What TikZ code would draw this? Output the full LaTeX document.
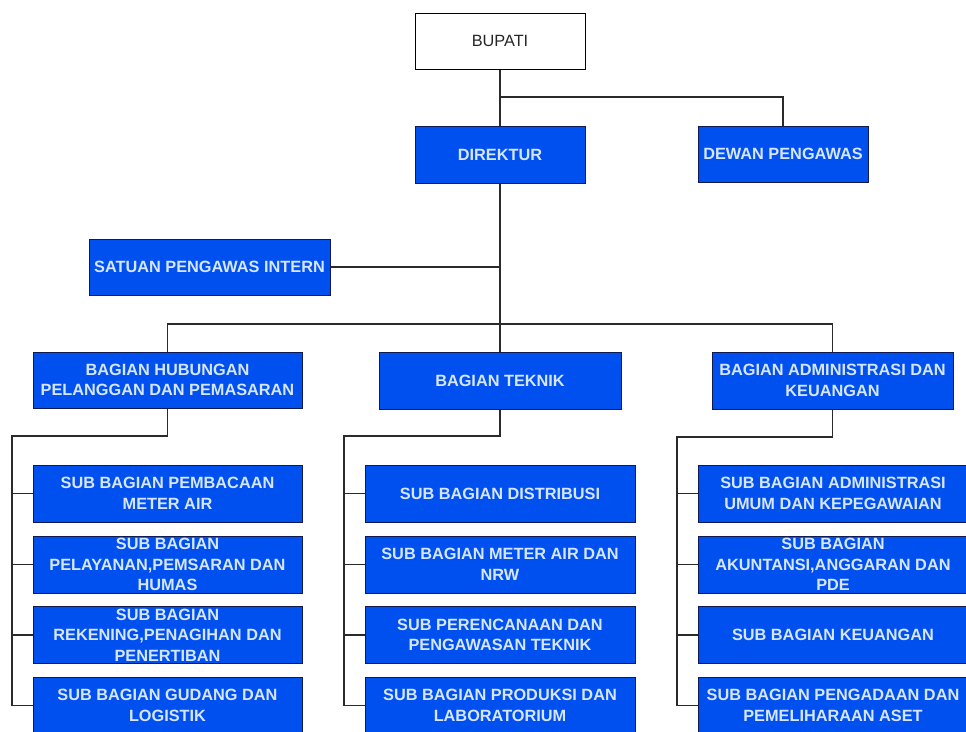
\documentclass[tikz,border=0pt]{standalone}
\usepackage{fontspec}
\setmainfont{Liberation Sans}
\definecolor{boxblue}{HTML}{0050EF}
\definecolor{boxline}{HTML}{101A50}
\definecolor{boxtext}{HTML}{D6E6FF}
\definecolor{wire}{HTML}{2A2A2A}
\begin{document}
\begin{tikzpicture}[x=1pt,y=-1pt,
  base/.style={rectangle,align=center,inner xsep=2pt,inner ysep=0pt,
    font=\fontsize{16.3}{20.5}\selectfont},
  whitebox/.style={base,draw=black,fill=white,line width=1pt,text=black!85},
  bluebox/.style={base,draw=boxline,fill=boxblue,line width=1pt,text=boxtext,
    font=\fontsize{16.3}{20.5}\selectfont\bfseries},
  subbox/.style={bluebox,minimum width=270,minimum height=57},
  wireline/.style={draw=wire,line width=1.3pt}]
\useasboundingbox (0,0) rectangle (966,731);
\begin{scope}
\clip (0,0) rectangle (966,731);
% top level
\node[whitebox,minimum width=170,minimum height=56] (bupati) at (500,41) {BUPATI};
\node[bluebox,minimum width=170,minimum height=57] (dir) at (500,154.5) {DIREKTUR};
\node[bluebox,minimum width=170,minimum height=56] (dewan) at (783,154) {DEWAN PENGAWAS};
\node[bluebox,minimum width=241,minimum height=56] (spi) at (209.5,267) {SATUAN PENGAWAS INTERN};
% bagian
\node[bluebox,minimum width=269,minimum height=56] (bhp) at (167.5,380) {BAGIAN HUBUNGAN\\PELANGGAN DAN PEMASARAN};
\node[bluebox,minimum width=242,minimum height=57] (bt) at (500,380.5) {BAGIAN TEKNIK};
\node[bluebox,minimum width=241,minimum height=57] (bak) at (832.5,380.5) {BAGIAN ADMINISTRASI DAN\\KEUANGAN};
% left subs
\node[subbox,minimum width=269] (l1) at (167.5,493.5) {SUB BAGIAN PEMBACAAN\\METER AIR};
\node[subbox,minimum width=269] (l2) at (167.5,564.5) {SUB BAGIAN\\PELAYANAN,PEMSARAN DAN\\HUMAS};
\node[subbox,minimum width=269] (l3) at (167.5,635) {SUB BAGIAN\\REKENING,PENAGIHAN DAN\\PENERTIBAN};
\node[subbox,minimum width=269] (l4) at (167.5,705.5) {SUB BAGIAN GUDANG DAN\\LOGISTIK};
% middle subs
\node[subbox] (m1) at (500,493.5) {SUB BAGIAN DISTRIBUSI};
\node[subbox] (m2) at (500,564.5) {SUB BAGIAN METER AIR DAN\\NRW};
\node[subbox] (m3) at (500,635) {SUB PERENCANAAN DAN\\PENGAWASAN TEKNIK};
\node[subbox] (m4) at (500,705.5) {SUB BAGIAN PRODUKSI DAN\\LABORATORIUM};
% right subs
\node[subbox] (r1) at (833,493.5) {SUB BAGIAN ADMINISTRASI\\UMUM DAN KEPEGAWAIAN};
\node[subbox] (r2) at (833,564.5) {SUB BAGIAN\\AKUNTANSI,ANGGARAN DAN\\PDE};
\node[subbox] (r3) at (833,635) {SUB BAGIAN KEUANGAN};
\node[subbox] (r4) at (833,705.5) {SUB BAGIAN PENGADAAN DAN\\PEMELIHARAAN ASET};
% junctions
\coordinate (j1) at (500,97);
\coordinate (j2) at (500,324);
\coordinate (lx) at (12,436);
\coordinate (mx) at (344,436);
\coordinate (rx) at (677,437);
% connectors
\draw[wireline] (bupati.south) -- (dir.north);
\draw[wireline] (j1) -| (dewan.north);
\draw[wireline] (dir.south) -- (bt.north);
\draw[wireline] (spi.east) -- (spi.east -| dir.south);
\draw[wireline] (bhp.north) |- (j2) -| (bak.north);
\draw[wireline] (bhp.south) |- (lx) |- (l4.west);
\draw[wireline] (lx |- l1.west) -- (l1.west);
\draw[wireline] (lx |- l2.west) -- (l2.west);
\draw[wireline] (lx |- l3.west) -- (l3.west);
\draw[wireline] (bt.south) |- (mx) |- (m4.west);
\draw[wireline] (mx |- m1.west) -- (m1.west);
\draw[wireline] (mx |- m2.west) -- (m2.west);
\draw[wireline] (mx |- m3.west) -- (m3.west);
\draw[wireline] (bak.south) |- (rx) |- (r4.west);
\draw[wireline] (rx |- r1.west) -- (r1.west);
\draw[wireline] (rx |- r2.west) -- (r2.west);
\draw[wireline] (rx |- r3.west) -- (r3.west);
\end{scope}
\end{tikzpicture}
\end{document}
